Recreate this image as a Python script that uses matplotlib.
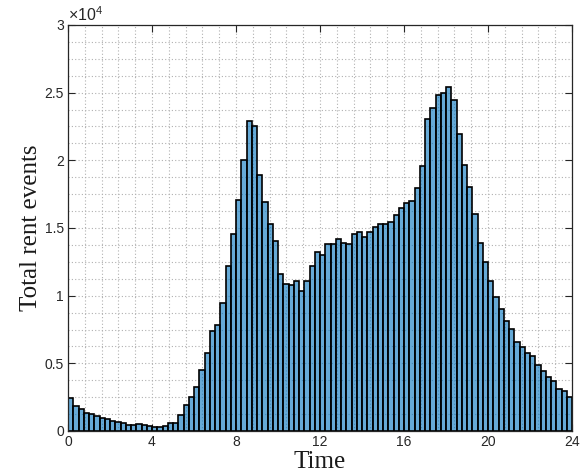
import numpy as np
import matplotlib
matplotlib.use("Agg")
import matplotlib.pyplot as plt
from matplotlib.ticker import MultipleLocator, FuncFormatter

# 15-minute bins over 24 hours
bin_width = 0.25
counts = [2426, 1856, 1609, 1361, 1238, 1114, 990, 866, 743, 668, 570, 446,
          446, 495, 420, 350, 320, 330, 370, 570, 600, 1150, 1910, 2530,
          3240, 4490, 5730, 7410, 7820, 9480, 12170, 14540, 17040, 20000, 22910, 22520,
          18910, 16910, 15310, 14050, 11600, 10860, 10820, 11110, 10320, 11060, 12200, 13240,
          13040, 13850, 13850, 14200, 13880, 13800, 14570, 14690, 14370, 14740, 15060, 15310,
          15330, 15430, 15930, 16470, 16840, 16990, 17950, 19580, 23090, 23880, 24820, 24940,
          25430, 24490, 21930, 19680, 18030, 16000, 13880, 12470, 11060, 9880, 9010, 8100,
          7530, 6590, 6220, 5800, 5560, 4860, 4400, 4000, 3700, 3090, 2960, 2520]
x_ticks = [0, 4, 8, 12, 16, 20, 24]
y_ticks = [0, 5000, 10000, 15000, 20000, 25000, 30000]
x_label = "Time"
y_label = "Total rent events"

left_edges = np.arange(len(counts)) * bin_width

fig = plt.figure(figsize=(5.83, 4.74), dpi=100)
ax = fig.add_axes([68/583, 43/474, (572-68)/583, (431-25)/474])

face = (0.0, 0.447, 0.741, 0.6)
ax.bar(left_edges, counts, width=bin_width, align="edge", facecolor=face,
       edgecolor="black", linewidth=1.2, zorder=2)

ax.set_xlim(0, 24)
ax.set_ylim(0, 30000)
ax.set_xticks(x_ticks)
ax.set_yticks(y_ticks)
ax.xaxis.set_minor_locator(MultipleLocator(0.8))
ax.yaxis.set_minor_locator(MultipleLocator(1250))
ax.yaxis.set_major_formatter(FuncFormatter(lambda v, p: f"{v/1e4:g}"))

ax.grid(True, which="both", linestyle=(0, (1, 2)), color="#b0b0b0", linewidth=0.8, zorder=0)
ax.set_axisbelow(True)

ax.tick_params(which="major", direction="in", length=5, width=0.8, top=True, right=True,
               labelsize=10, colors="#262626", pad=3)
ax.tick_params(which="minor", length=0, top=True, right=True)
for lab in ax.get_xticklabels() + ax.get_yticklabels():
    lab.set_fontfamily("Liberation Sans")
for s in ax.spines.values():
    s.set_color("#262626")
    s.set_linewidth(0.9)

ax.text(0.0, 1.003, r"$\mathregular{\times 10^{4}}$", transform=ax.transAxes, ha="left", va="bottom",
        fontsize=11.5, color="#262626", family="Liberation Sans")

ax.set_xlabel(x_label, family="Liberation Serif", fontsize=18, labelpad=1, color="#1a1a1a")
ax.set_ylabel(y_label, family="Liberation Serif", fontsize=18, labelpad=2, color="#1a1a1a")

fig.savefig("out.png", dpi=100)
